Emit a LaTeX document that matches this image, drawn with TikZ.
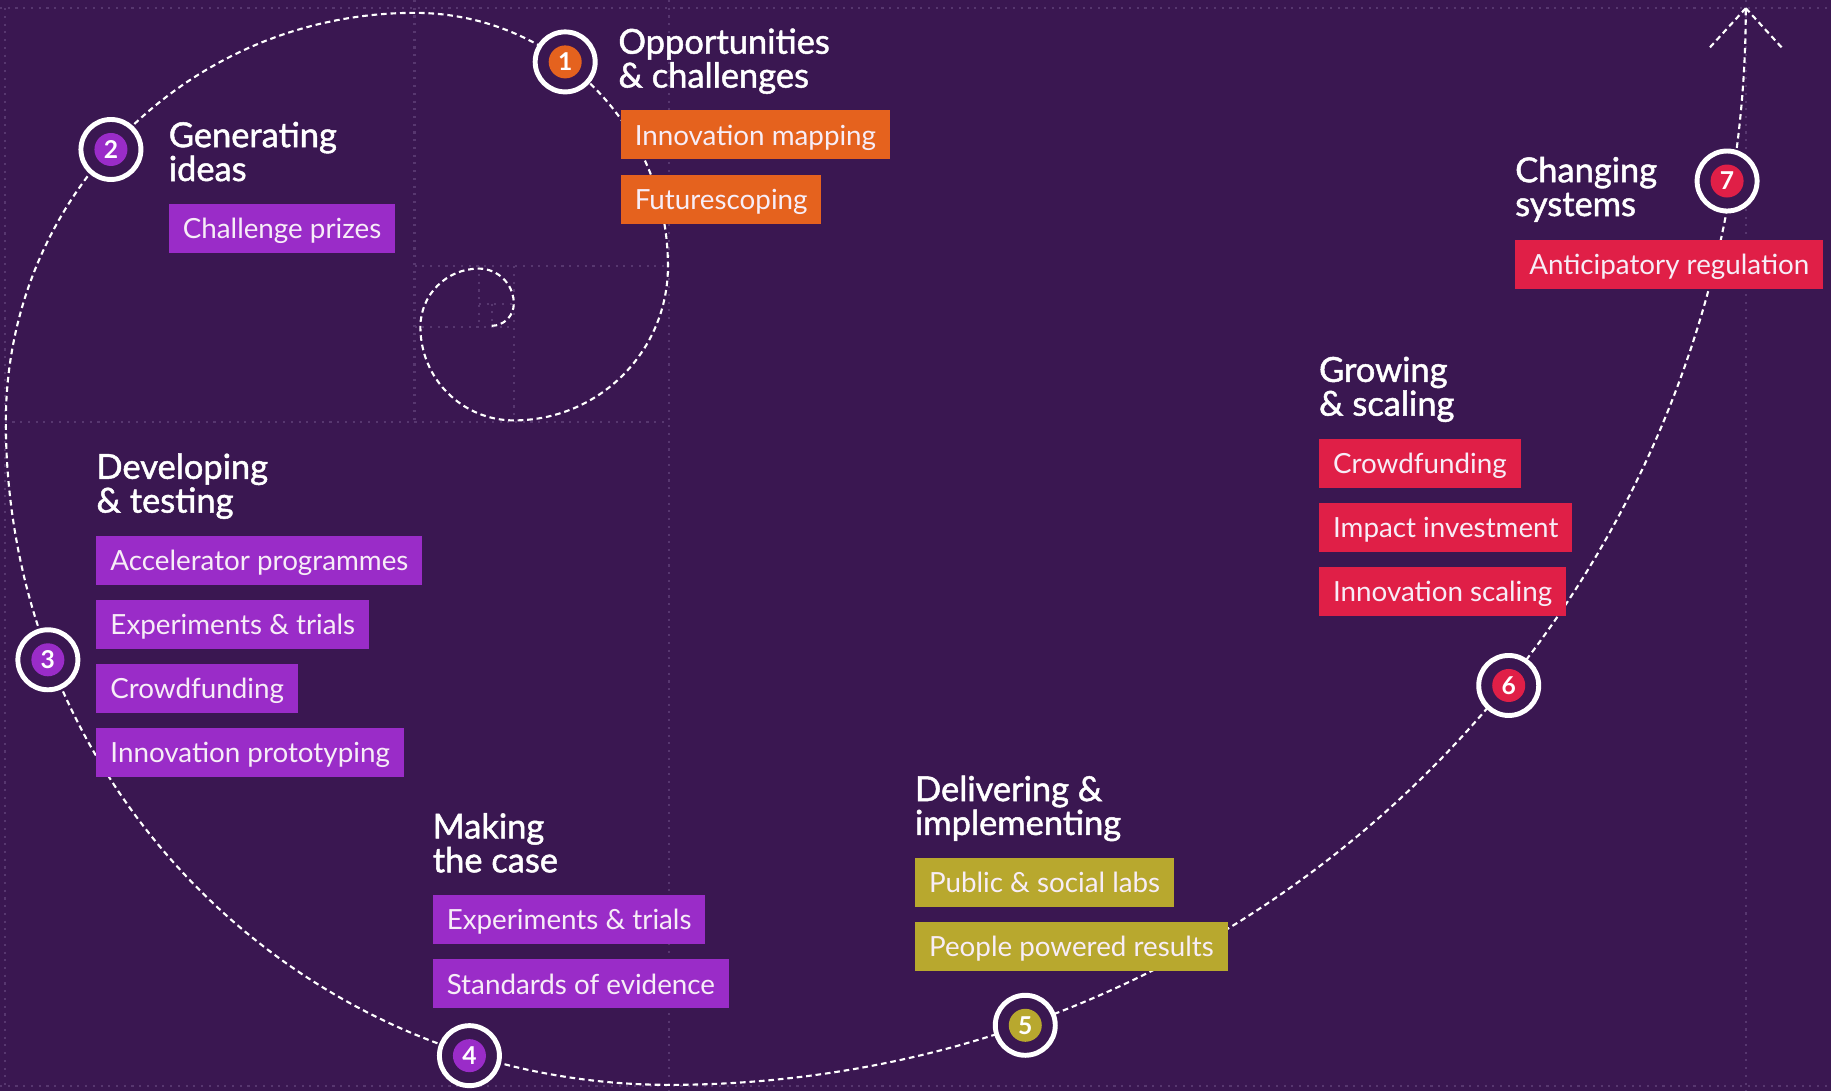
\documentclass[tikz,border=0pt]{standalone}
\usepackage{fontspec}
\setmainfont{Lato}
\newfontfamily\headfont[FakeBold=1.4]{Lato}
\usepackage{tikz}
\definecolor{BGcolor}{HTML}{3A1751}
\definecolor{GOLDENcolor}{HTML}{57376F}
\definecolor{OPPcolor}{HTML}{E5621E}
\definecolor{GENcolor}{HTML}{9A2CC8}
\definecolor{DELcolor}{HTML}{B8A82E}
\definecolor{GROWcolor}{HTML}{E01F47}
\definecolor{TXTcolor}{HTML}{F7EDF7}

\begin{document}
\begin{tikzpicture}[x=0.11677mm, y=0.11677mm]
    \tikzset{%
        golden/.style={GOLDENcolor, line width=0.6pt, dash pattern=on 0.6pt off 1.6pt},
        spiral/.style={white, line width=0.6pt, dash pattern=on 1.6pt off 1.1pt},
        stagering/.style={circle, draw=white, fill=BGcolor, line width=1.4pt, minimum size=6mm, inner sep=0pt},
        stagedot/.style={circle, fill=#1, text=white, minimum size=3.3mm, inner sep=0pt, font=\fontsize{7pt}{7pt}\selectfont\bfseries},
        stagetitle/.style={anchor=base west, align=left, text=white, inner sep=0pt, font=\headfont\fontsize{9.8pt}{9.63pt}\selectfont},
        toolbox/.style={anchor=north west, fill=#1, text=TXTcolor, minimum height=4.9mm, inner xsep=1.4mm, inner ysep=0pt, text height=5.8pt, text depth=0pt, font=\fontsize{7.9pt}{7.9pt}\selectfont},
        pics/stage/.style args={#1/#2}{code={%
                        \node[stagering] (-ring) {};
                        \node[stagedot=#1] (-dot) {#2};
                    }
            }
    }

    \fill [BGcolor] (0, 0) rectangle (1568, -934);
    \useasboundingbox (0, 0) rectangle (1568, -934);

    % golden rectangles
    \draw [golden] (0, -7) -- (1568, -7);
    \draw [golden] (0, -930) -- (1568, -930);
    \draw [golden] (4, -7) -- (4, -934);
    \draw [golden] (573, 0) -- (573, -934);
    \draw [golden] (1495, 0) -- (1495, -934);
    \draw [golden] (4, -361) -- (573, -361);
    \draw [golden] (355, 0) -- (355, -361);
    \draw [golden] (355, -228) -- (573, -228);
    \draw [golden] (440, -228) -- (440, -361);
    \draw [golden] (355, -280) -- (440, -280);
    \draw [golden] (410, -228) -- (410, -280);
    \draw [golden] (410, -260) -- (440, -260);
    \draw [golden] (421, -260) -- (421, -280);

    % spiral
    \draw [spiral] (421, -279) arc (-90:0:19) arc (0:90:30) arc (90:180:50)
        arc (180:270:80) arc (270:360:132) arc (0:90:217) arc (90:180:350)
        arc (180:270:568) arc (270:360:922) coordinate (tip);
    \draw [spiral] (tip) -- ++(-32, -35);
    \draw [spiral] (tip) -- ++(32, -35);

    % stages
    \pic (s1) at (484, -53) {stage=OPPcolor/1};
    \pic (s2) at (95, -128) {stage=GENcolor/2};
    \pic (s3) at (41, -565) {stage=GENcolor/3};
    \pic (s4) at (402, -904) {stage=GENcolor/4};
    \pic (s5) at (878, -878) {stage=DELcolor/5};
    \pic (s6) at (1292, -587) {stage=GROWcolor/6};
    \pic (s7) at (1479, -155) {stage=GROWcolor/7};

    % titles (anchored on the second line)
    \node[stagetitle] (opp) at (529, -75) {Opportunities\\\& challenges};
    \node[stagetitle] (gen) at (144, -155) {Generating\\ideas};
    \node[stagetitle] (dev) at (82, -439) {Developing\\\& testing};
    \node[stagetitle] (mak) at (370, -747) {Making\\the case};
    \node[stagetitle] (del) at (783, -715) {Delivering \&\\implementing};
    \node[stagetitle] (gro) at (1129, -356) {Growing\\\& scaling};
    \node[stagetitle] (cha) at (1297, -185) {Changing\\systems};

    % methods
    \node[toolbox=OPPcolor] (oppA) at (531, -94) {Innovation mapping};
    \node[toolbox=OPPcolor] (oppB) at (531, -149) {Futurescoping};
    \node[toolbox=GENcolor] (genA) at (144, -174) {Challenge prizes};
    \node[toolbox=GENcolor] (devA) at (82, -458) {Accelerator programmes};
    \node[toolbox=GENcolor] (devB) at (82, -513) {Experiments \& trials};
    \node[toolbox=GENcolor] (devC) at (82, -568) {Crowdfunding};
    \node[toolbox=GENcolor] (devD) at (82, -623) {Innovation prototyping};
    \node[toolbox=GENcolor] (makA) at (370, -766) {Experiments \& trials};
    \node[toolbox=GENcolor] (makB) at (370, -821) {Standards of evidence};
    \node[toolbox=DELcolor] (delA) at (783, -734) {Public \& social labs};
    \node[toolbox=DELcolor] (delB) at (783, -789) {People powered results};
    \node[toolbox=GROWcolor] (groA) at (1129, -375) {Crowdfunding};
    \node[toolbox=GROWcolor] (groB) at (1129, -430) {Impact investment};
    \node[toolbox=GROWcolor] (groC) at (1129, -485) {Innovation scaling};
    \node[toolbox=GROWcolor] (chaA) at (1297, -205) {Anticipatory regulation};

\end{tikzpicture}
\end{document}
